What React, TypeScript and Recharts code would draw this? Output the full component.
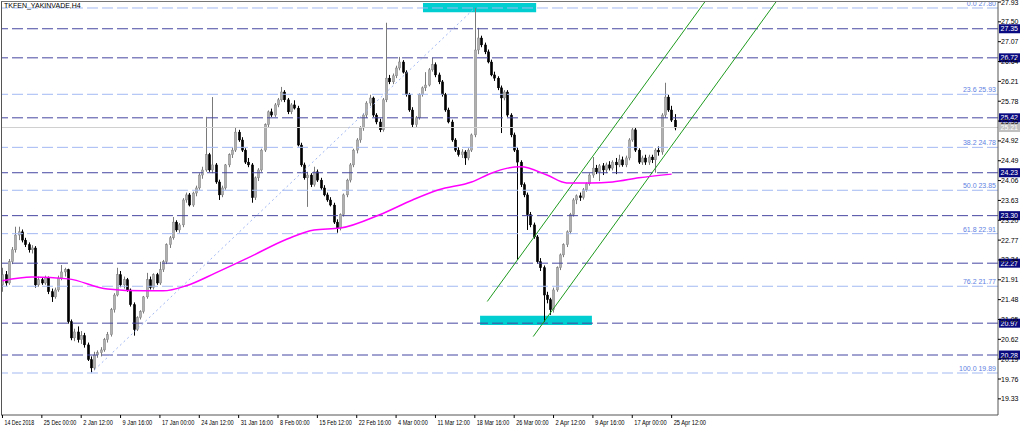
import React from "react";
import {
  ComposedChart,
  Bar,
  Line,
  XAxis,
  YAxis,
  ReferenceLine,
  ReferenceArea,
} from "recharts";

// H4 candles, [open, high, low, close]
const candles: number[][] = [
  [21.80, 22.17, 21.65, 22.02], [22.02, 22.10, 21.78, 21.84], [21.84, 22.36, 21.80, 22.30], [22.30, 22.62, 22.25, 22.56],
  [22.56, 23.06, 22.50, 22.88], [22.88, 23.06, 22.77, 22.95], [22.95, 23.00, 22.72, 22.77], [22.77, 22.82, 22.62, 22.67],
  [22.67, 22.72, 22.50, 22.56], [22.56, 22.66, 22.48, 22.60], [22.60, 22.64, 21.74, 21.80], [21.80, 21.98, 21.76, 21.91],
  [21.91, 21.96, 21.80, 21.84], [21.84, 22.00, 21.80, 21.95], [21.95, 21.98, 21.60, 21.65], [21.65, 21.72, 21.43, 21.54],
  [21.54, 21.74, 21.50, 21.69], [21.69, 22.00, 21.65, 21.95], [21.95, 22.23, 21.90, 22.08], [22.08, 22.17, 21.98, 22.13],
  [22.13, 22.15, 20.96, 21.00], [21.00, 21.05, 20.60, 20.65], [20.65, 20.85, 20.58, 20.78], [20.78, 20.90, 20.55, 20.61],
  [20.61, 20.80, 20.52, 20.70], [20.70, 20.76, 20.44, 20.50], [20.50, 20.55, 20.15, 20.18], [20.18, 20.25, 19.89, 20.00],
  [20.00, 20.35, 19.95, 20.28], [20.28, 20.38, 20.22, 20.33], [20.33, 20.45, 20.25, 20.39], [20.39, 20.65, 20.35, 20.61],
  [20.61, 20.78, 20.55, 20.72], [20.72, 21.30, 20.68, 21.26], [21.26, 21.62, 21.20, 21.58], [21.58, 22.17, 21.55, 22.02],
  [22.02, 22.10, 21.75, 21.80], [21.80, 21.98, 21.72, 21.91], [21.91, 21.95, 21.65, 21.69], [21.69, 21.72, 21.33, 21.37],
  [21.37, 21.42, 20.70, 20.83], [20.83, 21.12, 20.80, 21.09], [21.09, 21.25, 21.05, 21.22], [21.22, 21.56, 21.18, 21.54],
  [21.54, 22.06, 21.50, 21.91], [21.91, 21.98, 21.70, 21.74], [21.74, 22.05, 21.70, 22.02], [22.02, 22.06, 21.80, 21.84],
  [21.84, 22.30, 21.80, 22.13], [22.13, 22.34, 22.08, 22.30], [22.30, 22.70, 22.25, 22.67], [22.67, 22.86, 22.60, 22.82],
  [22.82, 23.27, 22.78, 23.16], [23.16, 23.20, 22.95, 22.99], [22.99, 23.14, 22.93, 23.10], [23.10, 23.68, 23.05, 23.64],
  [23.64, 23.80, 23.58, 23.75], [23.75, 23.79, 23.50, 23.53], [23.53, 23.82, 23.49, 23.79], [23.79, 23.95, 23.72, 23.90],
  [23.90, 24.22, 23.86, 24.18], [24.18, 24.36, 24.10, 24.29], [24.29, 25.44, 24.25, 24.62], [24.62, 24.66, 24.25, 24.29],
  [24.29, 25.87, 24.22, 24.40], [24.40, 24.44, 23.99, 24.03], [24.03, 24.08, 23.64, 23.75], [23.75, 23.95, 23.70, 23.90],
  [23.90, 24.42, 23.86, 24.40], [24.40, 24.65, 24.35, 24.62], [24.62, 24.78, 24.55, 24.72], [24.72, 25.22, 24.68, 25.11],
  [25.11, 25.16, 24.90, 24.94], [24.94, 25.00, 24.68, 24.72], [24.72, 24.76, 24.42, 24.46], [24.46, 24.55, 24.35, 24.40],
  [24.40, 24.44, 23.58, 23.69], [23.69, 24.15, 23.64, 24.12], [24.12, 24.33, 24.05, 24.29], [24.29, 24.75, 24.25, 24.72],
  [24.72, 25.30, 24.68, 25.27], [25.27, 25.58, 25.22, 25.55], [25.55, 25.62, 25.44, 25.48], [25.48, 25.74, 25.44, 25.70],
  [25.70, 25.85, 25.65, 25.81], [25.81, 26.09, 25.77, 25.98], [25.98, 26.02, 25.76, 25.81], [25.81, 25.85, 25.50, 25.55],
  [25.55, 25.74, 25.50, 25.70], [25.70, 25.80, 25.60, 25.63], [25.63, 25.68, 24.80, 24.83], [24.83, 24.88, 24.36, 24.40],
  [24.40, 24.45, 24.08, 24.12], [24.12, 24.25, 23.49, 24.18], [24.18, 24.22, 23.92, 23.97], [23.97, 24.36, 23.93, 24.25],
  [24.25, 24.30, 24.03, 24.07], [24.07, 24.12, 23.86, 23.90], [23.90, 23.96, 23.72, 23.75], [23.75, 23.80, 23.60, 23.64],
  [23.64, 23.70, 23.50, 23.53], [23.53, 23.58, 23.12, 23.16], [23.16, 23.22, 22.93, 23.03], [23.03, 23.35, 22.98, 23.32],
  [23.32, 23.78, 23.28, 23.75], [23.75, 24.10, 23.70, 24.07], [24.07, 24.44, 24.02, 24.40], [24.40, 24.75, 24.35, 24.72],
  [24.72, 24.98, 24.65, 24.94], [24.94, 25.24, 24.88, 25.20], [25.20, 25.52, 25.14, 25.48], [25.48, 25.78, 25.42, 25.74],
  [25.74, 25.92, 25.68, 25.85], [25.85, 25.88, 25.44, 25.48], [25.48, 25.52, 25.28, 25.33], [25.33, 25.40, 25.11, 25.16],
  [25.16, 25.85, 25.12, 25.81], [25.81, 27.48, 25.76, 26.28], [26.28, 26.35, 26.15, 26.20], [26.20, 26.38, 26.15, 26.33],
  [26.33, 26.55, 26.28, 26.50], [26.50, 26.74, 26.45, 26.63], [26.63, 26.67, 26.38, 26.41], [26.41, 26.45, 25.88, 25.92],
  [25.92, 25.96, 25.55, 25.59], [25.59, 25.65, 25.20, 25.27], [25.27, 25.46, 25.22, 25.42], [25.42, 25.95, 25.38, 25.92],
  [25.92, 26.10, 25.88, 26.07], [26.07, 26.41, 26.00, 26.13], [26.13, 26.50, 26.10, 26.46], [26.46, 26.72, 26.42, 26.57],
  [26.57, 26.62, 26.30, 26.35], [26.35, 26.40, 26.15, 26.20], [26.20, 26.24, 25.88, 25.92], [25.92, 25.96, 25.55, 25.59],
  [25.59, 25.64, 25.30, 25.33], [25.33, 25.38, 24.90, 24.94], [24.94, 24.98, 24.68, 24.72], [24.72, 24.78, 24.58, 24.62],
  [24.62, 24.74, 24.55, 24.68], [24.68, 24.72, 24.40, 24.55], [24.55, 24.76, 24.50, 24.72], [24.72, 25.08, 24.68, 25.05],
  [25.05, 27.80, 25.00, 26.89], [26.89, 27.37, 26.80, 27.15], [27.15, 27.20, 26.95, 27.00], [27.00, 27.05, 26.80, 26.85],
  [26.85, 26.90, 26.60, 26.63], [26.63, 26.68, 26.32, 26.35], [26.35, 26.42, 26.22, 26.28], [26.28, 26.32, 26.02, 26.07],
  [26.07, 26.12, 25.09, 25.85], [25.85, 26.02, 25.80, 25.98], [25.98, 26.02, 25.44, 25.48], [25.48, 25.52, 25.00, 25.05],
  [25.05, 25.10, 24.68, 24.72], [24.72, 24.78, 22.34, 24.46], [24.46, 24.50, 23.92, 23.97], [23.97, 24.02, 23.70, 23.75],
  [23.75, 23.80, 22.99, 23.32], [23.32, 23.38, 23.05, 23.10], [23.10, 23.15, 22.80, 22.84], [22.84, 22.88, 22.26, 22.30],
  [22.30, 22.38, 22.10, 22.17], [22.17, 22.22, 21.00, 21.58], [21.58, 21.65, 21.40, 21.48], [21.48, 21.52, 21.15, 21.26],
  [21.26, 21.74, 21.20, 21.69], [21.69, 22.20, 21.65, 22.17], [22.17, 22.48, 22.12, 22.45], [22.45, 22.70, 22.40, 22.67],
  [22.67, 22.98, 22.62, 22.95], [22.95, 23.36, 22.90, 23.32], [23.32, 23.68, 23.28, 23.64], [23.64, 23.76, 23.55, 23.73],
  [23.73, 23.80, 23.62, 23.69], [23.69, 23.90, 23.65, 23.86], [23.86, 24.02, 23.82, 23.99], [23.99, 24.22, 23.95, 24.18],
  [24.18, 24.57, 24.12, 24.33], [24.33, 24.40, 24.20, 24.25], [24.25, 24.42, 24.05, 24.38], [24.38, 24.44, 24.18, 24.29],
  [24.29, 24.45, 24.22, 24.40], [24.40, 24.48, 24.28, 24.33], [24.33, 24.50, 24.28, 24.46], [24.46, 24.55, 24.20, 24.40],
  [24.40, 24.62, 24.35, 24.51], [24.51, 24.58, 24.36, 24.40], [24.40, 24.60, 24.35, 24.55], [24.55, 24.98, 24.50, 24.94],
  [24.94, 25.22, 24.90, 25.16], [25.16, 25.20, 24.68, 24.72], [24.72, 24.76, 24.42, 24.46], [24.46, 24.60, 24.40, 24.55],
  [24.55, 24.62, 24.40, 24.46], [24.46, 24.62, 24.40, 24.57], [24.57, 24.62, 24.44, 24.51], [24.51, 24.76, 24.23, 24.72],
  [24.72, 24.80, 24.60, 24.68], [24.68, 25.52, 24.62, 25.48], [25.48, 26.18, 25.42, 25.87], [25.87, 25.92, 25.55, 25.59],
  [25.59, 25.68, 25.33, 25.37], [25.37, 25.50, 25.15, 25.20],
];

// moving average (bar index / price)
const maBars = [0, 9, 20, 32, 43, 49, 56, 65, 75, 87, 95, 103, 115, 125, 133, 143, 149, 154, 158, 166, 172, 179, 186, 194, 204];
const maValues = [21.89, 21.97, 21.93, 21.71, 21.67, 21.67, 21.78, 22.06, 22.39, 22.8, 22.99, 23.03, 23.32, 23.64, 23.86, 24.03, 24.22, 24.33, 24.36, 24.18, 24.01, 24.01, 24.03, 24.12, 24.2];

const levels = [27.35, 26.72, 25.42, 24.23, 23.3, 22.27, 20.97, 20.28];
const fibPct = ["0.0", "23.6", "38.2", "50.0", "61.8", "76.2", "100.0"];
const fibValues = [27.8, 25.93, 24.78, 23.85, 22.91, 21.77, 19.89];
const lastPrice = 25.21;

const priceTicks = [19.33, 19.76, 20.19, 20.62, 21.05, 21.48, 21.91, 22.34, 22.77, 23.2, 23.63, 24.06, 24.49, 24.92, 25.35, 25.78, 26.21, 26.64, 27.07, 27.5, 27.93];
const dateBars = [0, 12, 24, 36, 48, 60, 72, 84, 96, 108, 120, 132, 144, 156, 168, 180, 192, 204];
const dateLabels = [
  "14 Dec 2018", "25 Dec 00:00", "2 Jan 12:00", "9 Jan 16:00", "17 Jan 00:00", "24 Jan 12:00",
  "31 Jan 16:00", "8 Feb 00:00", "15 Feb 12:00", "22 Feb 16:00", "4 Mar 00:00", "11 Mar 12:00",
  "18 Mar 16:00", "26 Mar 00:00", "2 Apr 12:00", "9 Apr 16:00", "17 Apr 00:00", "25 Apr 12:00",
];

// fib anchor: swing low -> swing high
const fibFrom = { x: 27, y: 19.89 };
const fibTo = { x: 144, y: 27.8 };
// rising channel
const channelLow = [{ x: 147.8, y: 21.44 }, { x: 214.1, y: 27.93 }];
const channelHigh = [{ x: 161.8, y: 20.68 }, { x: 235.8, y: 27.93 }];
// marked zones
const topZone = { x1: 128.2, x2: 162.7, y1: 27.71, y2: 27.91 };
const bottomZone = { x1: 145.6, x2: 179.7, y1: 20.93, y2: 21.13 };

const FONT = "'Liberation Sans', Arial, sans-serif";
const FS = 7;

const data = candles.map((c, i) => ({ i, o: c[0], hi: c[1], lo: c[2], c: c[3], range: [c[2], c[1]] }));
const maData = maBars.map((b, k) => ({ i: b, ma: maValues[k] }));

const Candle = (props: any) => {
  const { x, y, width, height, payload } = props;
  if (!payload) return null;
  const top = Math.min(y, y + height);
  const h = Math.abs(height);
  const { o, hi, lo, c } = payload;
  const py = (p: number) => (hi === lo ? top : top + ((hi - p) / (hi - lo)) * h);
  const cx = Math.round(x + width / 2) + 0.5;
  const up = c >= o;
  const bTop = py(Math.max(o, c));
  const bBot = py(Math.min(o, c));
  const col = up ? "#7a7a7a" : "#000";
  return (
    <g>
      <line x1={cx} x2={cx} y1={top} y2={top + h} stroke={col} strokeWidth={1} />
      <rect x={cx - 1.2} y={bTop} width={2.4} height={Math.max(1, bBot - bTop)} fill={up ? "#b0b0b0" : "#000"} stroke={col} strokeWidth={0.4} />
    </g>
  );
};

const tag = (text: string, bg: string) => (p: any) => {
  const vb = p.viewBox;
  if (!vb) return null;
  const x0 = vb.x + vb.width + 1;
  return (
    <g>
      <rect x={x0} y={vb.y - 4.5} width={21} height={9} fill={bg} />
      <text x={x0 + 1.5} y={vb.y + 2.5} fontSize={FS} fill="#fff" fontFamily={FONT}>{text}</text>
    </g>
  );
};

const fibLabel = (text: string) => (p: any) => {
  const vb = p.viewBox;
  if (!vb) return null;
  return (
    <text x={vb.x + vb.width - 2} y={vb.y - 2} textAnchor="end" fontSize={FS} fill="#5f82e2" fontFamily={FONT}>{text}</text>
  );
};

const PriceTick = (props: any) => {
  const { x, y, payload } = props;
  return (
    <g>
      <line x1={x} x2={x + 3} y1={y} y2={y} stroke="#000" />
      <text x={x + 3} y={y + 2.5} fontSize={FS} fill="#000" fontFamily={FONT}>{payload.value.toFixed(2)}</text>
    </g>
  );
};

const DateTick = (props: any) => {
  const { x, y, payload } = props;
  const k = dateBars.indexOf(payload.value);
  const label = dateLabels[k] || "";
  return (
    <g>
      <line x1={x} x2={x} y1={y} y2={y + 3} stroke="#000" />
      <text
        x={x + 2}
        y={y + 10}
        fontSize={6.5}
        fill="#000"
        fontFamily={FONT}
        textLength={label.length * 2.7}
        lengthAdjust="spacingAndGlyphs"
      >
        {label}
      </text>
    </g>
  );
};

export default function App() {
  return (
    <div style={{ position: "fixed", left: 0, top: 0, width: 1024, height: 432, background: "#fff" }}>
      <ComposedChart width={1024} height={432} data={data} margin={{ top: 2, right: 0, bottom: 0, left: 1 }}>
        <XAxis
          dataKey="i"
          type="number"
          domain={[-0.45, 303.5]}
          ticks={dateBars}
          interval={0}
          tick={<DateTick />}
          tickLine={false}
          tickSize={0}
          tickMargin={0}
          height={17}
          axisLine={{ stroke: "#555" }}
          allowDataOverflow
        />
        <YAxis
          orientation="right"
          type="number"
          domain={[18.98, 27.93]}
          ticks={priceTicks}
          interval={0}
          tick={<PriceTick />}
          tickLine={false}
          tickSize={0}
          tickMargin={0}
          width={26}
          axisLine={{ stroke: "#555" }}
          allowDataOverflow
        />
        <ReferenceArea {...topZone} fill="#00CED1" fillOpacity={1} stroke="none" />
        <ReferenceArea {...bottomZone} fill="#00CED1" fillOpacity={1} stroke="none" />
        <ReferenceLine y={lastPrice} stroke="#d0d0d0" strokeWidth={1} label={tag("25.21", "#c0c0c0")} />
        {fibValues.map((v, k) => (
          <ReferenceLine key={"f" + k} y={v} stroke="#a3b9f2" strokeDasharray="11 4" label={fibLabel(fibPct[k] + " " + v.toFixed(2))} />
        ))}
        {levels.map((v) => (
          <ReferenceLine key={"l" + v} y={v} stroke="#4646a2" strokeDasharray="11 4" label={tag(v.toFixed(2), "#0a0a80")} />
        ))}
        <ReferenceLine segment={[fibFrom, fibTo]} stroke="#9fb6f3" strokeDasharray="2 3" />
        <ReferenceLine segment={channelLow} stroke="#1e9a1e" strokeWidth={1} />
        <ReferenceLine segment={channelHigh} stroke="#1e9a1e" strokeWidth={1} />
        <Bar dataKey="range" barSize={3} shape={<Candle />} isAnimationActive={false} />
        <Line data={maData} dataKey="ma" type="monotone" stroke="#ff00ff" strokeWidth={1.5} dot={false} isAnimationActive={false} />
      </ComposedChart>
      <div style={{ position: "absolute", left: 1, top: 1, width: 996, height: 413, borderLeft: "1px solid #555", borderTop: "1px solid #777", pointerEvents: "none" }} />
      <div style={{ position: "absolute", left: 4, top: 2, fontSize: FS, fontFamily: FONT, color: "#000" }}>TKFEN_YAKINVADE,H4</div>
    </div>
  );
}
